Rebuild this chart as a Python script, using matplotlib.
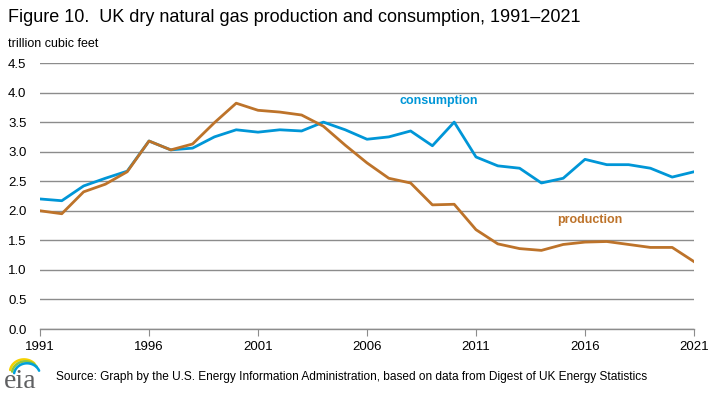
import matplotlib
matplotlib.use("Agg")
import matplotlib.pyplot as plt
import numpy as np

years = list(range(1991, 2022))
consumption = [2.20, 2.17, 2.42, 2.55, 2.67, 3.18, 3.03, 3.06, 3.25, 3.37, 3.33, 3.37, 3.35,
               3.50, 3.37, 3.21, 3.25, 3.35, 3.10, 3.50, 2.91, 2.76, 2.72, 2.47, 2.55, 2.87,
               2.78, 2.78, 2.72, 2.57, 2.66]
production = [2.00, 1.95, 2.32, 2.45, 2.66, 3.18, 3.03, 3.13, 3.49, 3.82, 3.70, 3.67, 3.62,
              3.43, 3.11, 2.81, 2.55, 2.47, 2.10, 2.11, 1.68, 1.44, 1.36, 1.33, 1.43, 1.47,
              1.48, 1.43, 1.38, 1.38, 1.14]
xticks = [1991, 1996, 2001, 2006, 2011, 2016, 2021]
yticks = [0.0, 0.5, 1.0, 1.5, 2.0, 2.5, 3.0, 3.5, 4.0, 4.5]

W, H = 712, 393
fig = plt.figure(figsize=(W / 100, H / 100), dpi=100)
plt.rcParams['font.family'] = ['Liberation Sans', 'DejaVu Sans']

ax = fig.add_axes([40 / W, 1 - 329 / H, (694 - 40) / W, (329 - 63) / H])
blue = '#0096d7'
brown = '#bd732a'
ax.plot(years, consumption, color=blue, lw=2, zorder=3)
ax.plot(years, production, color=brown, lw=2, zorder=3)
ax.set_xlim(1991, 2021)
ax.set_ylim(0, 4.5)
ax.set_yticks(yticks)
ax.set_yticklabels([f"{v:.1f}" for v in yticks])
ax.set_xticks(xticks)
ax.set_xticklabels([str(x) for x in xticks])
ax.yaxis.grid(True, color='#8c8c8c', lw=1)
ax.set_axisbelow(True)
for s in ['top', 'right', 'left']:
    ax.spines[s].set_visible(False)
ax.spines['bottom'].set_color('#8c8c8c')
ax.spines['bottom'].set_linewidth(1)
ax.tick_params(axis='y', length=0, labelsize=9.5, labelcolor='#000000')
ax.tick_params(axis='x', length=5, color='#8c8c8c', labelsize=9.5, pad=4, direction='out')
for lbl in ax.get_yticklabels():
    lbl.set_horizontalalignment('left')
ax.yaxis.set_tick_params(pad=23)

ax.text(2011.1, 3.86, 'consumption', color=blue, fontsize=9, fontweight='bold', ha='right', va='center')
ax.text(2017.7, 1.84, 'production', color=brown, fontsize=9, fontweight='bold', ha='right', va='center')

fig.text(8 / W, 1 - 18 / H, 'Figure 10.  UK dry natural gas production and consumption, 1991\u20132021',
         fontsize=13, ha='left', va='center')
fig.text(8 / W, 1 - 44 / H, 'trillion cubic feet', fontsize=9, ha='left', va='center')
fig.text(56 / W, 1 - 377 / H,
         'Source: Graph by the U.S. Energy Information Administration, based on data from Digest of UK Energy Statistics',
         fontsize=8.55, ha='left', va='center')

# eia logo
fig.text(4 / W, 1 - 381 / H, 'eia', fontsize=20, family=['Liberation Serif', 'DejaVu Serif'],
         color='#5f6062', ha='left', va='center')
lax = fig.add_axes([0, 1 - 393 / H, 60 / W, 48 / H])
lax.set_xlim(0, 60)
lax.set_ylim(48, 0)
lax.axis('off')
arcs = [('#f5d100', 0), ('#8cc63f', 2.5), ('#00a0dc', 5)]
for c, off in arcs:
    ang = np.linspace(np.pi * 0.95, np.pi * 0.05, 40)
    r = 14 - off * 0.2
    xs = 24 + off * 0.6 + r * np.cos(ang)
    ys = 27 + off * 0.6 - r * 0.9 * np.sin(ang)
    lax.plot(xs[:32 + int(off)], ys[:32 + int(off)], color=c, lw=1.8, solid_capstyle='round')

fig.savefig('out.png', dpi=100)
